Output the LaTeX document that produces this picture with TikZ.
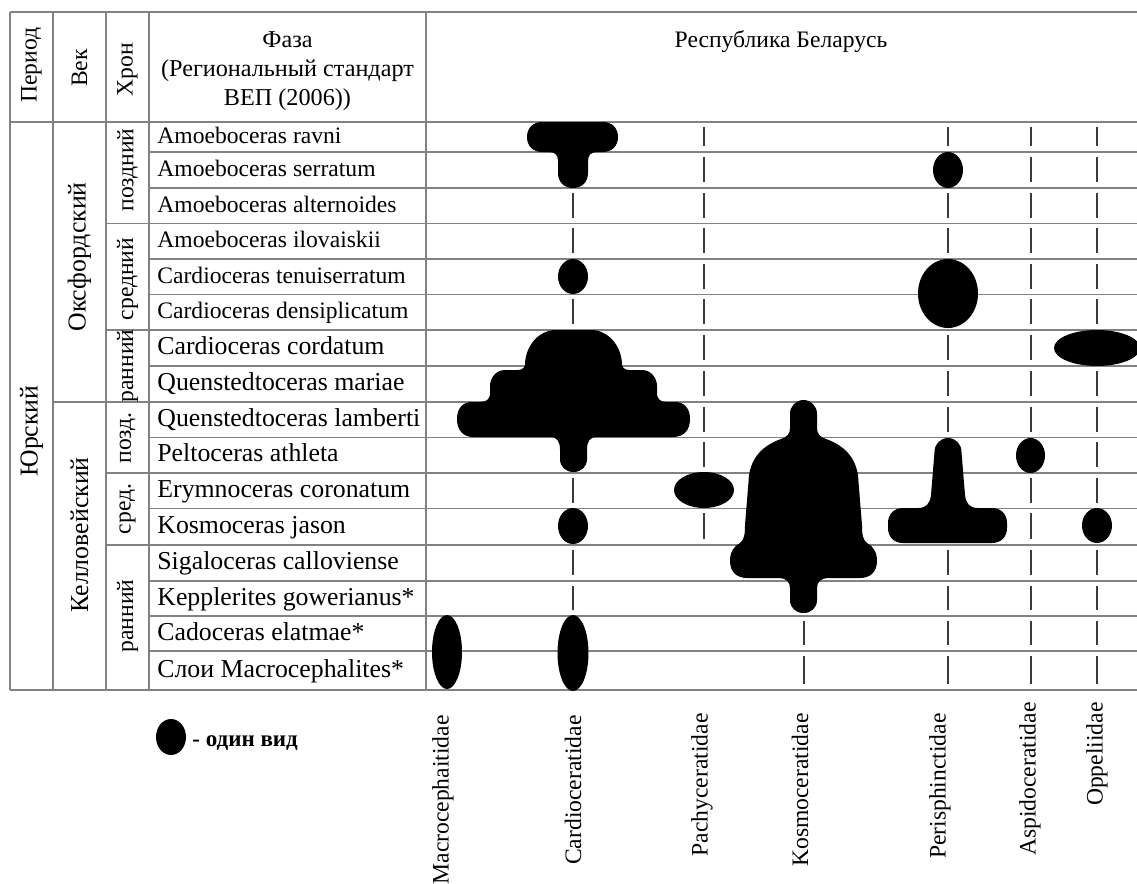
\documentclass[tikz,border=0pt]{standalone}
\usepackage{fontspec}
\setmainfont{Liberation Serif}
\usetikzlibrary{positioning}
\definecolor{gris}{RGB}{130,130,130}
\definecolor{grisoscuro}{RGB}{60,60,60}
% lineas de las filas (px)
\def\lineas{{122,152,188,223.5,259,294.5,330,366,402,437.5,473,508.5,545,581,616,651,690}}
\newcommand{\guiones}[2]{%
  \foreach \r in {#2}{%
    \pgfmathsetmacro{\ya}{\lineas[\r-1]+4.5}%
    \pgfmathsetmacro{\yb}{\lineas[\r]-6}%
    \draw[trazo] (#1,\ya) -- (#1,\yb);}}

\begin{document}
\begin{tikzpicture}[x=0.5pt, y=-0.5pt,
  rejilla/.style={gris, line width=0.8pt},
  trazo/.style={grisoscuro, line width=1pt},
  chico/.style={font=\fontsize{11.8}{14.5}\selectfont},
  grande/.style={font=\fontsize{12.9}{15}\selectfont},
  fase/.style={anchor=west, inner sep=0pt, text height=0.66em, text depth=0pt},
  girado/.style={rotate=90, inner sep=0pt},
  familia/.style={rotate=90, anchor=east, inner sep=0pt, chico},
]
  \useasboundingbox (0,0) rectangle (1137,884);
  % Rejilla
  \foreach \y in {12,122,690} \draw[rejilla] (10,\y) -- (1137,\y);
  \draw[rejilla] (53,402) -- (1137,402);
  \foreach \y in {223.5,330,473,545} \draw[rejilla] (106,\y) -- (1137,\y);
  \foreach \y in {152,188,259,294.5,366,437.5,508.5,581,616,651}
    \draw[rejilla] (149,\y) -- (1137,\y);
  \foreach \x in {10,53,106,149,426} \draw[rejilla] (\x,12) -- (\x,690);
  % Encabezado
  \node[girado, chico] (periodo) at (31.5,65) {Период};
  \node[girado, chico] (vek) at (79.5,68) {Век};
  \node[girado, chico] (hron) at (127.5,70) {Хрон};
  \node[align=center, font=\fontsize{12.1}{14.5}\selectfont] (faza) at (287.5,71)
    {Фаза\\(Региональный стандарт\\ВЕП (2006))};
  \node[chico] (rb) at (781,42) {Республика Беларусь};
  % Periodo, siglos, crones
  \node[girado, grande] (jur) at (31.5,431) {Юрский};
  \node[girado, grande] (oksf) at (79.5,257) {Оксфордский};
  \node[girado, grande] (kell) at (79.5,535) {Келловейский};
  \node[girado, chico] (h1) at (127.5,170) {поздний};
  \node[girado, chico] (h2) at (127.5,279) {средний};
  \node[girado, chico] (h3) at (127.5,366) {ранний};
  \node[girado, chico] (h4) at (127.5,438) {позд.};
  \node[girado, chico] (h5) at (127.5,509) {сред.};
  \node[girado, chico] (h6) at (127.5,616) {ранний};
  % Fases
  \node[fase, chico] (f1) at (157,137) {Amoeboceras ravni};
  \node[fase, chico] (f2) at (157,170) {Amoeboceras serratum};
  \node[fase, chico] (f3) at (157,205.75) {Amoeboceras alternoides};
  \node[fase, chico] (f4) at (157,241.25) {Amoeboceras ilovaiskii};
  \node[fase, chico] (f5) at (157,276.75) {Cardioceras tenuiserratum};
  \node[fase, chico] (f6) at (157,312.25) {Cardioceras densiplicatum};
  \node[fase, grande] (f7) at (157,348) {Cardioceras cordatum};
  \node[fase, grande] (f8) at (157,384) {Quenstedtoceras mariae};
  \node[fase, grande] (f9) at (157,419.75) {Quenstedtoceras lamberti};
  \node[fase, grande] (f10) at (157,455.25) {Peltoceras athleta};
  \node[fase, grande] (f11) at (157,490.75) {Erymnoceras coronatum};
  \node[fase, grande] (f12) at (157,526.75) {Kosmoceras jason};
  \node[fase, grande] (f13) at (157,563) {Sigaloceras calloviense};
  \node[fase, grande] (f14) at (157,598.5) {Kepplerites gowerianus*};
  \node[fase, grande] (f15) at (157,633.5) {Cadoceras elatmae*};
  \node[fase, grande] (f16) at (157,670.5) {Слои Macrocephalites*};
  % Lineas de guiones
  \guiones{573}{3,4,6,11,13,14}
  \guiones{704}{1,...,10,12}
  \guiones{803.5}{15,16}
  \guiones{948}{1,3,4,7,8,9,13,14,15,16}
  \guiones{1030.5}{1,...,9,11,12,13,14,15,16}
  \guiones{1097}{1,...,6,8,9,10,11,13,14,15,16}
  % Cardioceratidae
  \fill (542,122) -- (603,122) .. controls (612,122) and (618,128) .. (618,137)
    .. controls (618,146) and (612,152) .. (603,152) -- (597,152)
    .. controls (591,152) and (588,155) .. (588,161) -- (588,173)
    .. controls (588,182) and (582,188) .. (573,188)
    .. controls (564,188) and (558,182) .. (558,173) -- (558,161)
    .. controls (558,155) and (555,152) .. (549,152) -- (542,152)
    .. controls (533,152) and (527,146) .. (527,137)
    .. controls (527,128) and (533,122) .. (542,122) -- cycle;
  \fill (573,276.5) ellipse [x radius=15, y radius=17.5];
  \fill (556,330) -- (591,330) .. controls (609,330) and (622,347) .. (622,365)
    .. controls (623,369) and (626,370) .. (630,370) -- (642,370)
    .. controls (651,370) and (657,378) .. (657,386) -- (657,394)
    .. controls (657,398) and (660,402) .. (666,402) -- (675,402)
    .. controls (684,402) and (690,408) .. (690,419)
    .. controls (690,430) and (684,437) .. (673,437) -- (597,437)
    .. controls (590,437) and (587,441) .. (587,450) -- (587,459)
    .. controls (587,467) and (581,472) .. (573.5,472)
    .. controls (566,472) and (560,467) .. (560,459) -- (560,450)
    .. controls (560,441) and (557,437) .. (550,437) -- (473,437)
    .. controls (463,437) and (457,430) .. (457,419)
    .. controls (457,408) and (463,402) .. (472,402) -- (481,402)
    .. controls (487,402) and (490,398) .. (490,394) -- (490,386)
    .. controls (490,378) and (496,370) .. (505,370) -- (517,370)
    .. controls (521,370) and (524,369) .. (525,365)
    .. controls (525,347) and (538,330) .. (556,330) -- cycle;
  \fill (573,526) ellipse [x radius=15, y radius=18];
  \fill (573,653) ellipse [x radius=15.5, y radius=38];
  % Macrocephalitidae
  \fill (447,652) ellipse [x radius=15, y radius=37];
  % Pachyceratidae
  \fill (704,490) ellipse [x radius=30, y radius=18];
  % Kosmoceratidae
  \fill (790,414) .. controls (790,406) and (796,400) .. (803.5,400)
    .. controls (811,400) and (817,406) .. (817,414) -- (817,428)
    .. controls (817,434) and (820,437) .. (826,439)
    .. controls (846,446) and (858,460) .. (858.5,482) -- (862,525)
    .. controls (862,535) and (863,540) .. (867,543)
    .. controls (873,546) and (877,552) .. (877,561)
    .. controls (877,572) and (870,578) .. (860,578) -- (828,578)
    .. controls (821,578) and (817,582) .. (817,588) -- (817,600)
    .. controls (817,608) and (811,613) .. (803.5,613)
    .. controls (796,613) and (790,608) .. (790,600) -- (790,588)
    .. controls (790,582) and (786,578) .. (779,578) -- (747,578)
    .. controls (737,578) and (730,572) .. (730,561)
    .. controls (730,552) and (734,546) .. (740,543)
    .. controls (744,540) and (745,535) .. (745,525) -- (748.5,482)
    .. controls (749,460) and (761,446) .. (781,439)
    .. controls (787,437) and (790,434) .. (790,428) -- cycle;
  % Perisphinctidae
  \fill (948,170) ellipse [x radius=15, y radius=18];
  \fill (948,293.5) ellipse [x radius=30, y radius=34.5];
  \fill (934.5,452) .. controls (934.5,444) and (940.5,438) .. (948,438)
    .. controls (955.5,438) and (961.5,444) .. (961.5,452) -- (965,495)
    .. controls (966,504) and (970,508) .. (978,508) -- (992,508)
    .. controls (1001,508) and (1007,514) .. (1007,523) -- (1007,528)
    .. controls (1007,537) and (1001,543) .. (992,543) -- (903,543)
    .. controls (894,543) and (888,537) .. (888,528) -- (888,523)
    .. controls (888,514) and (894,508) .. (903,508) -- (918,508)
    .. controls (926,508) and (930,504) .. (931,495) -- cycle;
  % Aspidoceratidae
  \fill (1030.5,455.5) ellipse [x radius=14.5, y radius=17.5];
  % Oppeliidae
  \fill (1097,348) ellipse [x radius=43, y radius=18];
  \fill (1097,525.5) ellipse [x radius=15, y radius=17.5];
  % Leyenda
  \fill (171,737) ellipse [x radius=15, y radius=18];
  \node[anchor=west, inner sep=0pt, font=\bfseries\fontsize{11.5}{13}\selectfont]
    (leyenda) at (192,743) {- один вид};
  % Familias
  \node[familia] (fam1) at (443,715) {Macrocephaitidae};
  \node[familia] (fam2) at (573,715) {Cardioceratidae};
  \node[familia] (fam3) at (702,713) {Pachyceratidae};
  \node[familia] (fam4) at (800,713) {Kosmoceratidae};
  \node[familia] (fam5) at (940,713) {Perisphinctidae};
  \node[familia] (fam6) at (1030,702) {Aspidoceratidae};
  \node[familia] (fam7) at (1097,702) {Oppeliidae};
\end{tikzpicture}
\end{document}
